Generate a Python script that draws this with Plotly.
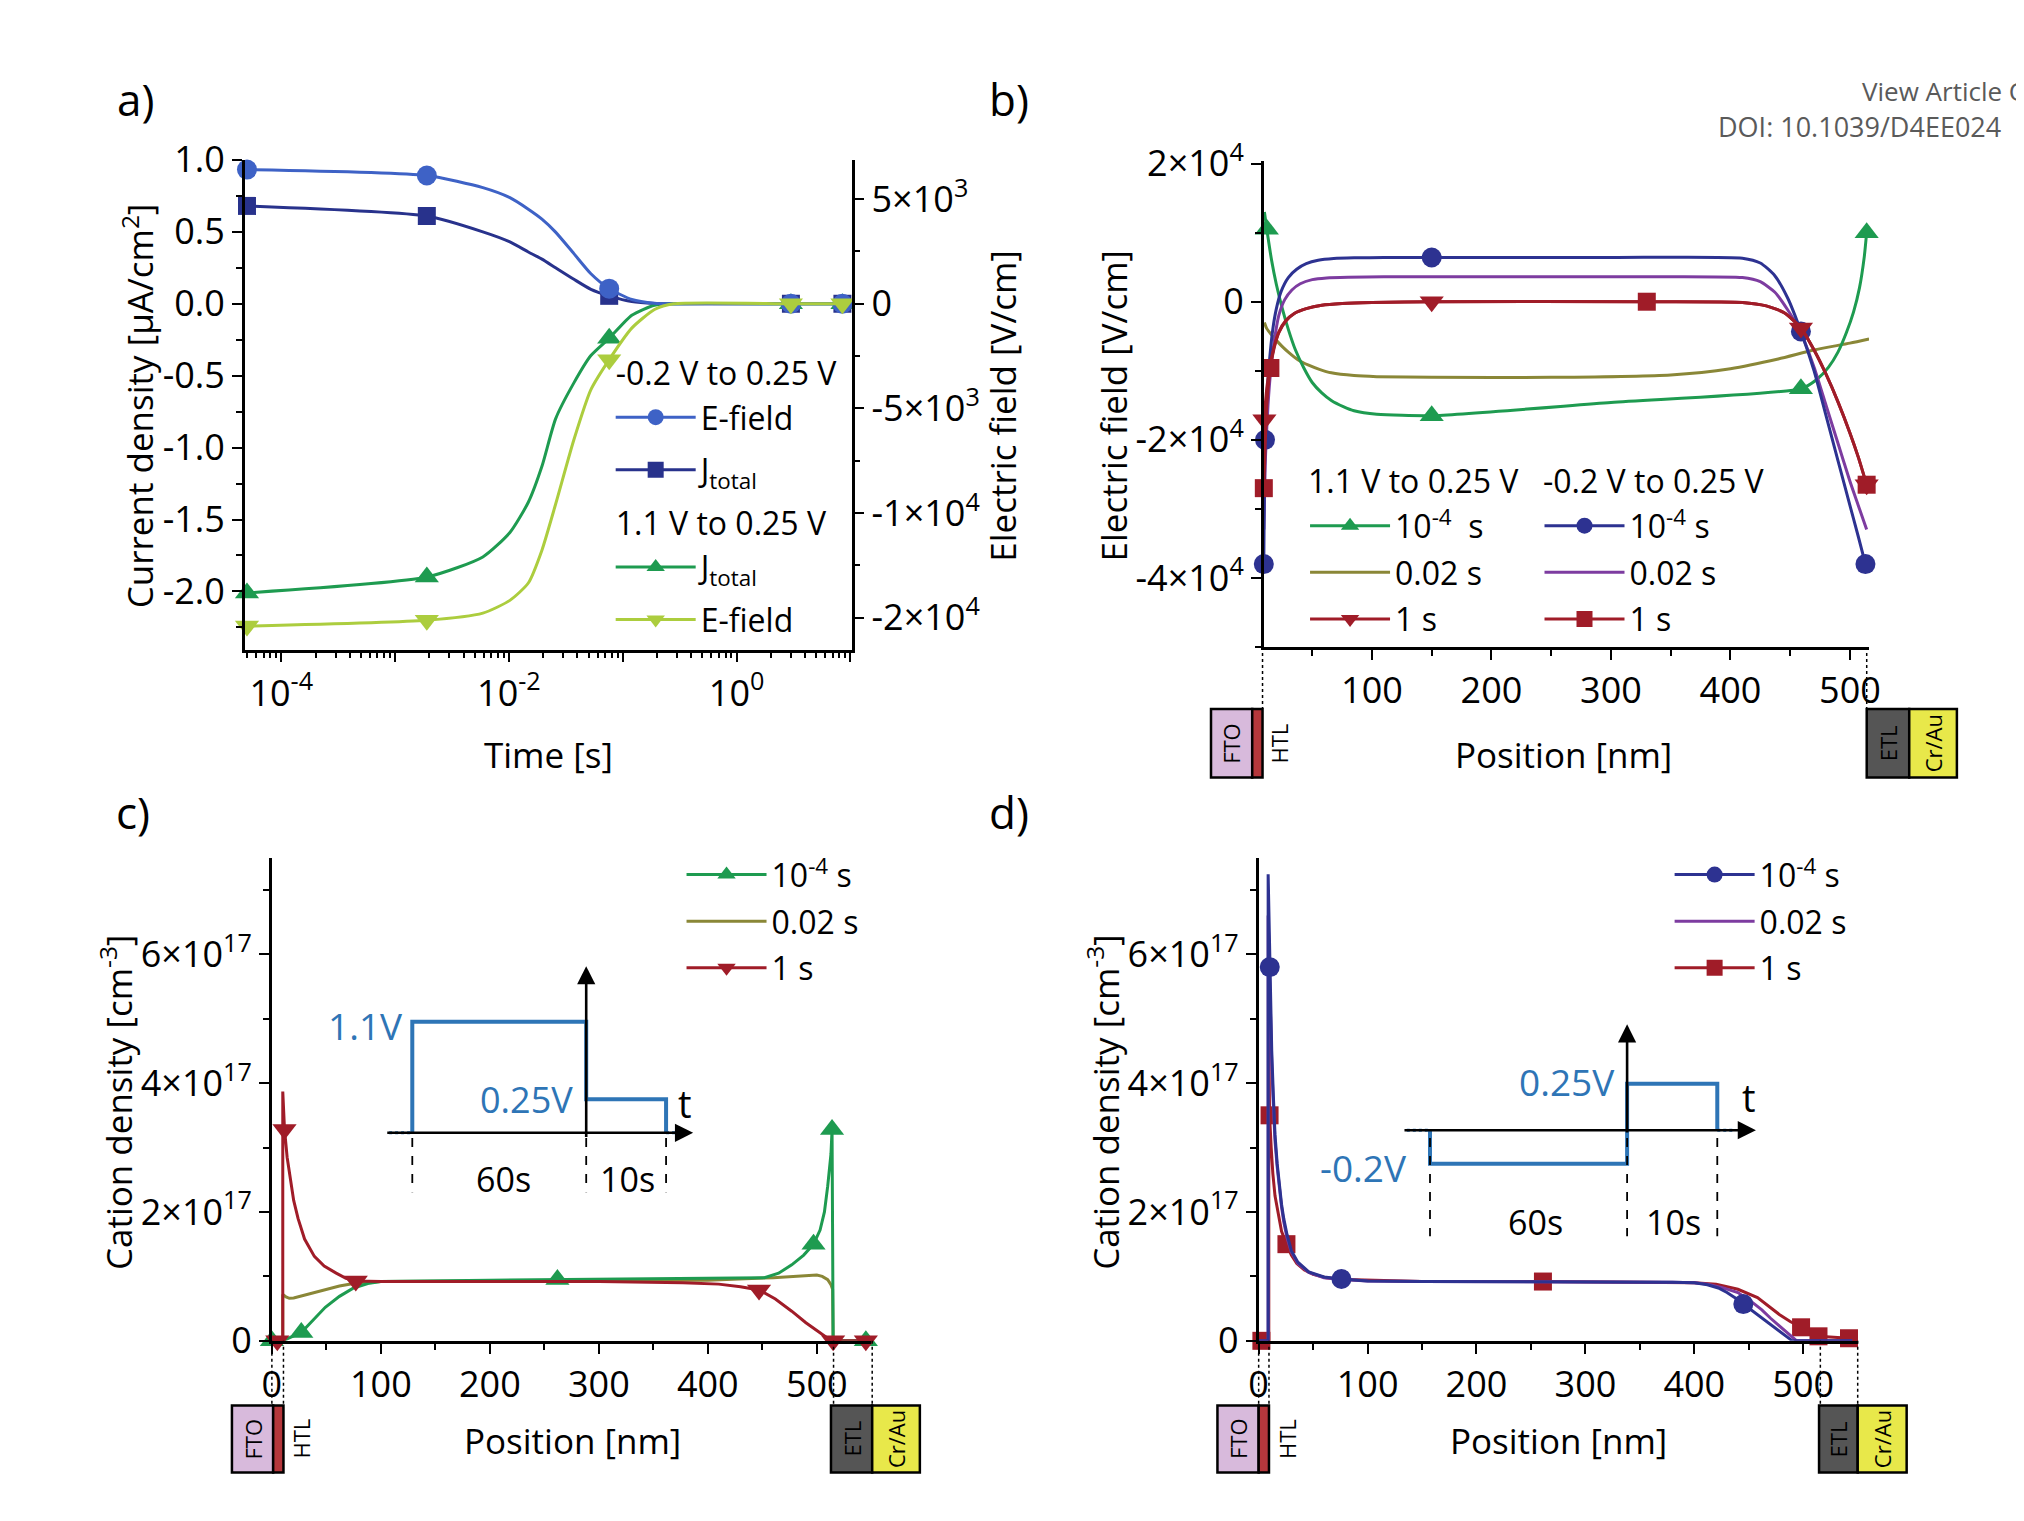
import plotly.graph_objects as go

FONT = "Open Sans"
W, H = 2024, 1521

# ---------------- Panel a data ----------------
time_s = [5.0e-5, 1.9e-3, 5.9e-3, 1.02e-2, 1.48e-2, 1.95e-2, 2.57e-2, 3.72e-2,
          5.25e-2, 7.6e-2, 0.12, 0.19, 0.28, 3.0, 8.5]
a_efield_neg = [6410, 6125, 5545, 5065, 4515, 4040, 3420, 2395, 1435, 720, 205, 25, 0, 0, 0]
a_jtot_neg = [0.68, 0.61, 0.50, 0.43, 0.36, 0.31, 0.25, 0.17, 0.10, 0.055, 0.015, 0.002, 0, 0, 0]
a_jtot_pos = [-2.01, -1.90, -1.76, -1.59, -1.38, -1.13, -0.80, -0.55, -0.36, -0.24, -0.08, -0.01, 0, 0, 0]
a_efield_pos = [-15400, -15120, -14780, -14170, -13340, -11770, -9580, -6500, -4105, -2670,
                -1165, -275, 0, 0, 0]
a_marks = [0, 1, 9, 13, 14]

# ---------------- Panel b data ----------------
b_green_x = [10, 12, 16, 20, 25, 30, 36, 43, 50, 58, 66, 76, 85, 104, 150, 300, 459, 472, 482,
             490, 497, 503, 508, 512, 514]
b_green_y = [13000, 10500, 6000, 2500, -1000, -4000, -7000, -9600, -11700, -13200, -14300,
             -15200, -15800, -16300, -16500, -14600, -12600, -11300, -9500, -7300, -4500,
             -1500, 2000, 6500, 10000]
b_green_m = [1, 14, 16, 24]
b_olive_x = [10, 12, 16, 20, 25, 30, 38, 47, 56, 66, 85, 104, 150, 250, 350, 400, 440, 470, 500, 516]
b_olive_y = [-3000, -3900, -4800, -5600, -6500, -7300, -8400, -9200, -9800, -10300, -10700,
             -10850, -10950, -10950, -10600, -9700, -8300, -7000, -6000, -5400]
b_redtri_x = [9.5, 10, 12, 15, 18, 22, 28, 35, 45, 58, 75, 100, 150, 330, 410, 430, 445, 459,
              470, 480, 490, 500, 507, 514]
b_redtri_y = [-24000, -17100, -12500, -9000, -6600, -4400, -2700, -1700, -1000, -500, -250,
              -100, 0, 0, -100, -600, -1600, -3800, -7000, -10500, -14500, -19000, -22500, -26500]
b_redtri_m = [1, 12, 17, 23]
b_blue_x = [9.5, 10.5, 12, 14, 17, 20, 24, 30, 37, 45, 55, 68, 85, 110, 150, 300, 410, 425,
            437, 448, 459, 470, 480, 490, 500, 507, 513]
b_blue_y = [-38000, -20000, -14000, -9000, -4000, -1000, 1500, 3500, 4700, 5500, 6000, 6250,
            6350, 6400, 6400, 6400, 6300, 5600, 3800, 500, -4300, -10000, -16500, -23000,
            -29500, -34000, -38000]
b_blue_m = [0, 1, 14, 20, 26]
b_purple_x = [9.5, 11, 13, 15, 18, 22, 27, 33, 40, 50, 62, 80, 110, 150, 300, 410, 425, 437,
              448, 459, 470, 480, 490, 500, 507, 514]
b_purple_y = [-33000, -22000, -15000, -10500, -6000, -2000, 300, 1700, 2600, 3200, 3450, 3550,
              3600, 3600, 3600, 3500, 2900, 1400, -1200, -4500, -9500, -15000, -20500, -26000,
              -29500, -33000]
b_redsq_x = [9.5, 12, 15, 18, 22, 28, 35, 45, 58, 75, 100, 150, 330, 410, 430, 445, 459, 470,
             480, 490, 500, 507, 514]
b_redsq_y = [-27000, -15000, -9600, -6800, -4500, -2800, -1700, -1000, -500, -250, -100, 0, 0,
             -100, -600, -1600, -3800, -7000, -10500, -14500, -19000, -22500, -26500]
b_redsq_m = [0, 2, 12, 22]

# ---------------- Panel c data ----------------
c_red_x = [0, 5, 10, 10, 11.6, 14, 17, 20, 24, 30, 39, 48, 59, 68, 77, 100, 200, 300, 377, 410,
           430, 447, 462, 477, 490, 502, 510, 515, 545]
c_red_y = [0, 0, 0, 3.87e17, 3.28e17, 2.85e17, 2.5e17, 2.18e17, 1.9e17, 1.58e17, 1.31e17,
           1.16e17, 1.05e17, 0.97e17, 0.93e17, 0.92e17, 0.92e17, 0.92e17, 0.9e17, 0.88e17,
           0.84e17, 0.79e17, 0.65e17, 0.46e17, 0.28e17, 0.13e17, 0.04e17, 0, 0]
c_red_m = [1, 4, 14, 21, 27, 28]
c_green_x = [0, 10, 27, 38, 49, 62, 75, 88, 100, 200, 262, 350, 452, 465, 477, 488, 497, 503,
             507, 510, 513, 514, 515, 545]
c_green_y = [0, 0, 0.13e17, 0.33e17, 0.52e17, 0.69e17, 0.82e17, 0.89e17, 0.92e17, 0.94e17,
             0.95e17, 0.96e17, 0.98e17, 1.05e17, 1.18e17, 1.33e17, 1.5e17, 1.72e17, 2.0e17,
             2.4e17, 2.9e17, 3.28e17, 0, 0]
c_green_m = [0, 2, 10, 16, 21, 23]
c_olive_x = [10, 10, 13, 16, 20, 26, 32, 40, 49, 62, 75, 100, 200, 300, 400, 460, 480, 490, 500,
             505, 510, 513, 514.5, 515]
c_olive_y = [0, 0.72e17, 0.68e17, 0.66e17, 0.665e17, 0.69e17, 0.72e17, 0.76e17, 0.79e17,
             0.85e17, 0.89e17, 0.92e17, 0.93e17, 0.93e17, 0.94e17, 0.98e17, 1.0e17, 1.02e17,
             1.02e17, 1.0e17, 0.95e17, 0.87e17, 0.80e17, 0]

# ---------------- Panel d data ----------------
d_blue_x = [0, 8.7, 8.7, 10.2, 11, 12, 13.5, 15, 17, 19, 21, 23, 26, 30, 36, 46, 60, 76, 100,
            150, 300, 380, 400, 412, 422, 430, 438, 445, 454, 463, 473, 483, 490, 545]
d_blue_y = [0, 0, 7.24e17, 5.8e17, 5.1e17, 4.5e17, 3.8e17, 3.2e17, 2.75e17, 2.4e17, 2.12e17,
            1.9e17, 1.65e17, 1.4e17, 1.22e17, 1.07e17, 0.99e17, 0.96e17, 0.93e17, 0.92e17,
            0.92e17, 0.91e17, 0.9e17, 0.87e17, 0.82e17, 0.75e17, 0.66e17, 0.57e17, 0.46e17,
            0.35e17, 0.21e17, 0.08e17, 0, 0]
d_blue_m = [3, 17, 27]
d_purple_x = [0, 8.7, 8.7, 10.5, 12, 13.5, 15, 17, 19, 21, 23, 26, 30, 36, 46, 60, 76, 100, 150,
              300, 380, 400, 412, 425, 440, 453, 462, 470, 482, 494, 545]
d_purple_y = [0, 0, 6.6e17, 5.3e17, 4.3e17, 3.65e17, 3.1e17, 2.7e17, 2.35e17, 2.08e17, 1.85e17,
              1.6e17, 1.38e17, 1.2e17, 1.06e17, 0.98e17, 0.95e17, 0.93e17, 0.92e17, 0.92e17,
              0.91e17, 0.9e17, 0.88e17, 0.83e17, 0.75e17, 0.6e17, 0.48e17, 0.35e17, 0.17e17, 0, 0]
d_red_x = [0, 2.5, 9.3, 9.3, 10, 11.5, 13, 15, 18, 21, 25.5, 30, 35, 42, 50, 62, 80, 150, 261,
           350, 400, 420, 440, 458, 468, 478, 488, 498, 508, 514, 542]
d_red_y = [0, 0, 0, 5.0e17, 3.5e17, 3.0e17, 2.6e17, 2.25e17, 1.95e17, 1.7e17, 1.5e17, 1.33e17,
           1.2e17, 1.1e17, 1.03e17, 0.98e17, 0.95e17, 0.92e17, 0.92e17, 0.91e17, 0.9e17,
           0.88e17, 0.8e17, 0.67e17, 0.54e17, 0.41e17, 0.3e17, 0.21e17, 0.1e17, 0.07e17, 0.04e17]
d_red_m = [1, 4, 10, 18, 27, 29, 30]

# ---------------- tick labels ----------------
a_ytick_vals = [1.0, 0.5, 0.0, -0.5, -1.0, -1.5, -2.0]
a_ytick_text = ["1.0", "0.5", "0.0", "-0.5", "-1.0", "-1.5", "-2.0"]
a_y2tick_vals = [5000, 0, -5000, -10000, -15000]
a_y2tick_text = ["5×10<sup>3</sup>", "0", "-5×10<sup>3</sup>", "-1×10<sup>4</sup>", "-2×10<sup>4</sup>"]
a_xtick_vals = [1e-4, 1e-3, 1e-2, 1e-1, 1, 10]
a_xtick_text = ["10<sup>-4</sup>", "", "10<sup>-2</sup>", "", "10<sup>0</sup>", ""]
b_ytick_vals = [20000, 0, -20000, -40000]
b_ytick_text = ["2×10<sup>4</sup>", "0", "-2×10<sup>4</sup>", "-4×10<sup>4</sup>"]
cd_ytick_vals = [0, 2e17, 4e17, 6e17]
cd_ytick_text = ["0", "2×10<sup>17</sup>", "4×10<sup>17</sup>", "6×10<sup>17</sup>"]
pos_ticks = [0, 100, 200, 300, 400, 500]

# ---------------- colours ----------------
C_EBLUE = "rgb(62,98,198)"
C_NAVY = "rgb(40,50,140)"
C_GREEN = "rgb(30,155,80)"
C_LIME = "rgb(172,205,62)"
C_OLIVE = "rgb(138,135,55)"
C_DRED = "rgb(160,28,40)"
C_BLUE2 = "rgb(45,50,145)"
C_PURPLE = "rgb(125,60,160)"
C_INSET = "rgb(46,117,182)"

# -------- placement helpers (reference display coords -> paper) --------
K = 2024 / 1568
OX, OY, FW, FH = 15.4, 34.0, 2006.0, 1468.6


def px(xd):
    return (xd * K - OX) / FW


def py(yd):
    return 1 - (yd * K - OY) / FH


LEGF = 32
fig = go.Figure()
_cnt = [0]


def series(x, y, name, color, symbol=None, marks=None, xaxis="x", yaxis="y",
           legend="legend", rank=1, gtitle=None, shape="spline", size=20):
    _cnt[0] += 1
    kw = dict(x=x, y=y, name=name, xaxis=xaxis, yaxis=yaxis, legend=legend,
              legendgroup=f"g{_cnt[0]}", legendrank=rank,
              line=dict(color=color, width=3, shape=shape, smoothing=0.6),
              cliponaxis=False)
    if gtitle:
        kw["legendgrouptitle"] = dict(text=gtitle, font=dict(size=LEGF, color="black", family=FONT))
    if symbol:
        kw["mode"] = "lines+markers"
        kw["marker"] = dict(symbol=symbol, size=size, color=color)
        kw["selectedpoints"] = marks
        kw["selected"] = dict(marker=dict(opacity=1))
        kw["unselected"] = dict(marker=dict(opacity=0))
    else:
        kw["mode"] = "lines"
    fig.add_trace(go.Scatter(**kw))


# Panel a
series(time_s, a_efield_neg, "E-field", C_EBLUE, "circle", a_marks, "x", "y2", "legend", 1, "-0.2 V to 0.25 V")
series(time_s, a_jtot_neg, "J<sub>total</sub>", C_NAVY, "square", a_marks, "x", "y", "legend", 2, size=18)
series(time_s, a_jtot_pos, "J<sub>total</sub>", C_GREEN, "triangle-up", a_marks, "x", "y", "legend", 3, "1.1 V to 0.25 V", size=21)
series(time_s, a_efield_pos, "E-field", C_LIME, "triangle-down", a_marks, "x", "y2", "legend", 4, size=21)

# Panel b
series(b_olive_x, b_olive_y, "0.02 s", C_OLIVE, None, None, "x2", "y3", "legend2", 2)
series(b_green_x, b_green_y, "10<sup>-4</sup>  s", C_GREEN, "triangle-up", b_green_m, "x2", "y3", "legend2", 1, size=21)
series(b_purple_x, b_purple_y, "0.02 s", C_PURPLE, None, None, "x2", "y3", "legend3", 2)
series(b_blue_x, b_blue_y, "10<sup>-4</sup> s", C_BLUE2, "circle", b_blue_m, "x2", "y3", "legend3", 1)
series(b_redtri_x, b_redtri_y, "1 s", C_DRED, "triangle-down", b_redtri_m, "x2", "y3", "legend2", 3, size=21)
series(b_redsq_x, b_redsq_y, "1 s", C_DRED, "square", b_redsq_m, "x2", "y3", "legend3", 3, size=18)

# Panel c
series(c_olive_x, c_olive_y, "0.02 s", C_OLIVE, None, None, "x3", "y4", "legend4", 2, shape="linear")
series(c_green_x, c_green_y, "10<sup>-4</sup> s", C_GREEN, "triangle-up", c_green_m, "x3", "y4", "legend4", 1, shape="linear", size=21)
series(c_red_x, c_red_y, "1 s", C_DRED, "triangle-down", c_red_m, "x3", "y4", "legend4", 3, shape="linear", size=21)

# Panel d
series(d_red_x, d_red_y, "1 s", C_DRED, "square", d_red_m, "x4", "y5", "legend5", 3, shape="linear", size=18)
series(d_purple_x, d_purple_y, "0.02 s", C_PURPLE, None, None, "x4", "y5", "legend5", 2, shape="linear")
series(d_blue_x, d_blue_y, "10<sup>-4</sup> s", C_BLUE2, "circle", d_blue_m, "x4", "y5", "legend5", 1, shape="linear")

TICKF = 36
axis_common = dict(showline=True, linecolor="black", linewidth=2.5, ticks="outside",
                   ticklen=10, tickwidth=2, tickcolor="black", showgrid=False, zeroline=False,
                   tickfont=dict(size=TICKF, color="black", family=FONT))
minor_common = dict(ticks="outside", ticklen=6, tickwidth=2, tickcolor="black", showgrid=False)
log_minor = [k * 10 ** e for e in range(-5, 1) for k in range(2, 10)]

fig.update_layout(
    width=W, height=H, margin=dict(l=0, r=0, t=0, b=0),
    paper_bgcolor="white", plot_bgcolor="white",
    font=dict(family=FONT, size=30, color="black"),
    xaxis=dict(axis_common, type="log", range=[-4.32, 1.01], domain=[px(188), px(659)], anchor="y",
               tickmode="array", tickvals=a_xtick_vals, ticktext=a_xtick_text,
               minor=dict(minor_common, tickmode="array", tickvals=log_minor)),
    yaxis=dict(axis_common, range=[-2.404, 1.0], domain=[py(502), py(123)], anchor="x",
               tickmode="array", tickvals=a_ytick_vals, ticktext=a_ytick_text,
               minor=dict(minor_common, tickmode="array",
                          tickvals=[0.75, 0.25, -0.25, -0.75, -1.25, -1.75, -2.25])),
    yaxis2=dict(axis_common, range=[-2.404 * 6872, 1.0 * 6872], overlaying="y", side="right", anchor="x",
                tickmode="array", tickvals=a_y2tick_vals, ticktext=a_y2tick_text,
                minor=dict(minor_common, tickmode="array", tickvals=[2500, -2500, -7500, -12500])),
    xaxis2=dict(axis_common, range=[9.5, 516], domain=[px(979.0), px(1448.8)], anchor="y3",
                tickmode="array", tickvals=pos_ticks[1:],
                minor=dict(minor_common, tickmode="array", tickvals=[50, 150, 250, 350, 450])),
    yaxis3=dict(axis_common, range=[-50000, 20350], domain=[py(500), py(124)], anchor="x2",
                tickmode="array", tickvals=b_ytick_vals, ticktext=b_ytick_text,
                minor=dict(minor_common, tickmode="array", tickvals=[10000, -10000, -30000, -50000])),
    xaxis3=dict(axis_common, range=[0, 550], domain=[px(209), px(674.3)], anchor="y4",
                tickmode="array", tickvals=pos_ticks,
                minor=dict(minor_common, tickmode="array", tickvals=[50, 150, 250, 350, 450])),
    yaxis4=dict(axis_common, range=[0, 7.5e17], domain=[py(1037), py(663)], anchor="x3",
                tickmode="array", tickvals=cd_ytick_vals, ticktext=cd_ytick_text,
                minor=dict(minor_common, tickmode="array", tickvals=[1e17, 3e17, 5e17, 7e17])),
    xaxis4=dict(axis_common, range=[0, 550], domain=[px(975), px(1440)], anchor="y5",
                tickmode="array", tickvals=pos_ticks,
                minor=dict(minor_common, tickmode="array", tickvals=[50, 150, 250, 350, 450])),
    yaxis5=dict(axis_common, range=[0, 7.5e17], domain=[py(1037), py(663)], anchor="x4",
                tickmode="array", tickvals=cd_ytick_vals, ticktext=cd_ytick_text,
                minor=dict(minor_common, tickmode="array", tickvals=[1e17, 3e17, 5e17, 7e17])),
)

leg_common = dict(bgcolor="rgba(0,0,0,0)", font=dict(size=LEGF, color="black", family=FONT),
                  xanchor="left", yanchor="top", itemwidth=80, tracegroupgap=2,
                  traceorder="grouped")
fig.update_layout(
    legend=dict(leg_common, x=px(472), y=py(266.5), tracegroupgap=8),
    legend2=dict(leg_common, x=px(1011), y=py(385)),
    legend3=dict(leg_common, x=px(1193), y=py(385)),
    legend4=dict(leg_common, x=px(527), y=py(655)),
    legend5=dict(leg_common, x=px(1294), y=py(655)),
)

ann = []
shapes = []


def text(xd, yd, s, size=35, color="black", angle=0, xanchor="center"):
    ann.append(dict(x=px(xd), y=py(yd), xref="paper", yref="paper", text=s, showarrow=False,
                    font=dict(size=size, color=color, family=FONT), textangle=angle,
                    xanchor=xanchor, yanchor="middle"))


# panel labels
text(103, 76, "a)", 44)
text(781, 76, "b)", 44)
text(101, 628, "c)", 44)
text(781, 628, "d)", 44)

# axis titles
text(105, 313, "Current density [µA/cm<sup>2</sup>]", angle=-90)
text(776, 313, "Electric field [V/cm]", angle=-90)
text(424, 583, "Time [s]")
text(862, 313, "Electric field [V/cm]", angle=-90)
text(1212, 583, "Position [nm]")
text(89, 852, "Cation density [cm<sup>-3</sup>]", angle=-90)
text(442, 1114, "Position [nm]")
text(855, 852, "Cation density [cm<sup>-3</sup>]", angle=-90)
text(1208, 1114, "Position [nm]")

# legend headers of panel b
text(1012, 371, "1.1 V to 0.25 V", LEGF, xanchor="left")
text(1194, 371, "-0.2 V to 0.25 V", LEGF, xanchor="left")

# header (cut off at the page edge in the reference)
text(1442, 70, "View Article Online", 26, "rgb(90,90,90)", xanchor="left")
text(1330, 97, "DOI: 10.1039/D4EE024", 27, "rgb(90,90,90)", xanchor="left")


def line(x0, y0, x1, y1, color="black", width=2, dash="solid"):
    shapes.append(dict(type="line", xref="paper", yref="paper", x0=px(x0), y0=py(y0),
                       x1=px(x1), y1=py(y1), line=dict(color=color, width=width, dash=dash)))


def rect(x0, y0, x1, y1, fill):
    shapes.append(dict(type="rect", xref="paper", yref="paper", x0=px(x0), y0=py(y1),
                       x1=px(x1), y1=py(y0), fillcolor=fill, line=dict(color="black", width=2.5)))


def device(fto_l, ax_l, htl_r, htl_lab, etl_l, ax_r, cr_r, y_axis, y_top, y_bot, guides):
    for xv in guides:
        line(xv, y_axis, xv, y_top, width=1.5, dash="dot")
    rect(fto_l, y_top, ax_l, y_bot, "rgb(216,186,220)")
    rect(ax_l, y_top, htl_r, y_bot, "rgb(181,55,60)")
    rect(etl_l, y_top, ax_r, y_bot, "rgb(85,85,85)")
    rect(ax_r, y_top, cr_r, y_bot, "rgb(232,232,74)")
    ym = (y_top + y_bot) / 2
    text((fto_l + ax_l) / 2, ym, "FTO", 22, angle=-90)
    text(htl_lab, ym, "HTL", 22, angle=-90)
    text((etl_l + ax_r) / 2, ym, "ETL", 22, angle=-90)
    text((ax_r + cr_r) / 2, ym, "Cr/Au", 22, angle=-90)


device(938, 970, 978, 991, 1447, 1480, 1517, 500, 548, 601, [978, 1447])
device(178, 210, 218, 232, 643, 675, 712, 1037, 1087, 1139, [209, 218, 645, 675])
device(943, 975, 983, 997, 1410, 1440, 1478, 1037, 1087, 1139, [975, 983, 1411, 1440])


def arrow(xh, yh, xt, yt):
    ann.append(dict(x=px(xh), y=py(yh), xref="paper", yref="paper",
                    ax=(xt - xh) * K * W / FW, ay=(yt - yh) * K * H / FH,
                    axref="pixel", ayref="pixel", text="", showarrow=True, arrowhead=2,
                    arrowsize=1.4, arrowwidth=2.6, arrowcolor="black"))


def path(pts, color=C_INSET, width=4, dash="solid"):
    d = "M " + " L ".join(f"{px(x)},{py(y)}" for x, y in pts)
    shapes.append(dict(type="path", xref="paper", yref="paper", path=d,
                       line=dict(color=color, width=width, dash=dash)))


# inset c
path([(300, 876), (318, 876)], width=3, dash="dot")
path([(318, 876), (318, 790), (453, 790), (453, 850), (515, 850), (515, 876)])
path([(515, 876), (523, 876)], width=3, dash="dot")
arrow(536, 876, 300, 876)
arrow(453, 747, 453, 876)
for xv in [318, 453, 515]:
    line(xv, 880, xv, 922, dash="dash", width=1.8)
text(282, 793, "1.1V", 37, C_INSET)
text(407, 850, "0.25V", 36, C_INSET)
text(530, 853, "t", 38)
text(389, 912, "60s", 34)
text(485, 912, "10s", 34)

# inset d
path([(1090, 874), (1108, 874)], width=3, dash="dot")
path([(1108, 874), (1108, 900), (1261, 900), (1261, 838), (1331, 838), (1331, 874)])
path([(1331, 874), (1345, 874)], width=3, dash="dot")
arrow(1361, 874, 1090, 874)
arrow(1261, 792, 1261, 874)
for xv in [1108, 1261, 1331]:
    line(xv, 880, xv, 956, dash="dash", width=1.8)
text(1056, 903, "-0.2V", 37, C_INSET)
text(1214, 836, "0.25V", 37, C_INSET)
text(1356, 848, "t", 38)
text(1190, 945, "60s", 34)
text(1297, 945, "10s", 34)

fig.update_layout(annotations=ann, shapes=shapes)
fig.write_html("out.html")
